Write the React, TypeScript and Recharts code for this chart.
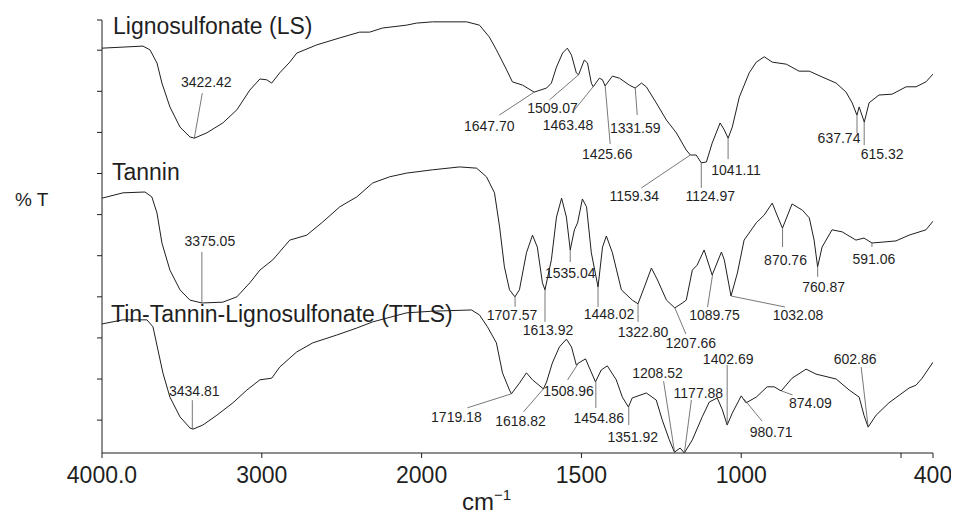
import { LineChart, Line, XAxis, YAxis, ReferenceDot } from "recharts"

// wavenumbers (cm-1), with the stacked %T reading at each one
const lsWave = [4000, 3744, 3700, 3656, 3625, 3575, 3512, 3450, 3422, 3344, 3244, 3156, 3075, 3012, 2969, 2938, 2888, 2825, 2781, 2656, 2512, 2388, 2325, 2244, 2094, 2031, 1966, 1859, 1819, 1788, 1766, 1734, 1716, 1684, 1648, 1609, 1594, 1578, 1559, 1544, 1531, 1516, 1509, 1491, 1481, 1469, 1463, 1444, 1434, 1426, 1403, 1381, 1350, 1332, 1312, 1297, 1266, 1234, 1203, 1172, 1159, 1141, 1125, 1109, 1091, 1066, 1053, 1041, 1028, 1006, 975, 953, 928, 903, 859, 819, 787, 747, 703, 672, 653, 638, 631, 615, 600, 569, 528, 484, 453, 422, 400]
const lsT = [9.85, 9.9, 9.81, 9.49, 9.0, 8.42, 7.93, 7.69, 7.66, 7.79, 8.03, 8.35, 8.83, 9.1, 9.08, 9.0, 9.25, 9.51, 9.73, 9.93, 10.1, 10.24, 10.24, 10.34, 10.41, 10.46, 10.49, 10.49, 10.41, 10.12, 9.81, 9.32, 9.03, 8.95, 8.78, 8.88, 9.0, 9.39, 9.73, 9.85, 9.68, 9.25, 9.2, 9.56, 9.49, 9.0, 8.91, 9.12, 9.08, 8.93, 9.17, 9.12, 8.95, 8.88, 9.0, 8.91, 8.52, 8.1, 7.79, 7.37, 7.25, 7.25, 7.06, 7.08, 7.54, 8.03, 7.86, 7.66, 7.93, 8.66, 9.25, 9.51, 9.64, 9.51, 9.46, 9.29, 9.29, 9.15, 9.0, 8.78, 8.52, 8.22, 8.42, 8.05, 8.52, 8.71, 8.73, 8.91, 8.91, 9.03, 9.22]

const tanninWave = [4000, 3869, 3731, 3688, 3656, 3625, 3575, 3512, 3450, 3375, 3244, 3156, 3075, 3012, 2931, 2825, 2719, 2619, 2512, 2406, 2306, 2200, 2094, 1966, 1881, 1828, 1797, 1772, 1756, 1741, 1725, 1708, 1694, 1672, 1653, 1638, 1622, 1614, 1594, 1578, 1562, 1547, 1535, 1522, 1512, 1497, 1484, 1469, 1448, 1434, 1422, 1403, 1375, 1341, 1323, 1303, 1281, 1262, 1234, 1208, 1184, 1172, 1153, 1138, 1116, 1091, 1062, 1053, 1032, 1012, 991, 953, 928, 903, 888, 871, 841, 809, 787, 772, 761, 747, 716, 684, 641, 616, 591, 559, 516, 475, 422, 400]
const tanninT = [6.2, 6.33, 6.35, 6.23, 5.84, 5.11, 4.45, 3.97, 3.72, 3.65, 3.67, 3.8, 4.14, 4.45, 4.7, 5.18, 5.3, 5.62, 5.99, 6.23, 6.57, 6.72, 6.81, 6.89, 6.96, 6.93, 6.72, 6.33, 5.5, 4.53, 3.97, 3.8, 3.97, 4.87, 5.3, 5.01, 4.14, 3.97, 4.7, 5.74, 6.2, 5.74, 4.94, 5.43, 5.6, 6.18, 5.99, 4.87, 4.04, 5.01, 5.28, 4.87, 3.97, 3.72, 3.63, 4.04, 4.5, 4.21, 3.72, 3.53, 3.65, 3.72, 4.45, 4.57, 4.94, 4.33, 4.89, 4.7, 3.82, 4.38, 5.18, 5.6, 5.79, 6.08, 5.79, 5.47, 6.06, 5.91, 5.72, 5.18, 4.53, 5.01, 5.43, 5.38, 5.18, 5.23, 5.11, 5.13, 5.16, 5.3, 5.43, 5.64]

const ttlsWave = [4000, 3869, 3719, 3681, 3650, 3619, 3575, 3512, 3450, 3431, 3369, 3281, 3181, 3094, 3012, 2938, 2888, 2825, 2781, 2681, 2531, 2406, 2306, 2094, 1966, 1844, 1819, 1794, 1766, 1747, 1725, 1719, 1694, 1672, 1653, 1619, 1609, 1591, 1569, 1547, 1531, 1516, 1509, 1487, 1475, 1456, 1438, 1419, 1391, 1372, 1353, 1341, 1297, 1266, 1247, 1225, 1209, 1191, 1178, 1153, 1122, 1100, 1075, 1059, 1044, 1028, 1000, 985, 953, 919, 897, 875, 841, 797, 766, 703, 662, 631, 616, 603, 578, 538, 475, 453, 434, 400]
const ttlsT = [3.14, 3.24, 3.24, 3.07, 2.51, 1.95, 1.36, 0.88, 0.61, 0.58, 0.68, 0.92, 1.22, 1.53, 1.78, 1.82, 2.09, 2.31, 2.46, 2.68, 2.87, 3.04, 3.19, 3.41, 3.45, 3.48, 3.36, 3.07, 2.68, 1.95, 1.53, 1.44, 1.7, 1.95, 1.78, 1.56, 1.73, 2.19, 2.58, 2.77, 2.58, 2.14, 2.19, 2.29, 2.07, 1.73, 2.02, 2.12, 1.78, 1.36, 1.12, 1.34, 1.46, 1.29, 0.8, 0.32, 0.02, 0.12, 0.0, 0.32, 0.88, 1.24, 1.34, 1.05, 0.68, 0.97, 1.39, 1.22, 1.36, 1.61, 1.61, 1.51, 1.82, 2.04, 1.92, 1.8, 1.53, 1.36, 0.92, 0.63, 0.92, 1.22, 1.58, 1.65, 1.82, 2.21]

// labelled bands and the %T of the curve where each leader line starts
const lsPeaks = [3422.42, 1647.7, 1509.07, 1463.48, 1425.66, 1331.59, 1159.34, 1124.97, 1041.11, 637.74, 615.32]
const lsPeakT = [7.66, 8.78, 9.2, 8.91, 8.93, 8.88, 7.25, 7.06, 7.66, 8.22, 8.05]
const tanninPeaks = [3375.05, 1707.57, 1613.92, 1535.04, 1448.02, 1322.8, 1207.66, 1089.75, 1032.08, 870.76, 760.87, 591.06]
const tanninPeakT = [3.65, 3.8, 3.97, 4.94, 4.04, 3.63, 3.53, 4.33, 3.82, 5.47, 4.53, 5.11]
const ttlsPeaks = [3434.81, 1719.18, 1618.82, 1508.96, 1454.86, 1351.92, 1208.52, 1177.88, 1402.69, 980.71, 874.09, 602.86]
const ttlsPeakT = [0.58, 1.44, 1.56, 2.19, 1.73, 1.12, 0.02, 0.0, 0.68, 1.31, 1.51, 0.63]

const xTicks = [4000, 3000, 2000, 1500, 1000, 500, 400]
const yTicks = [0.8, 1.8, 2.8, 3.8, 4.8, 5.8, 6.8, 7.8, 8.8, 9.8, 10.535]

// leader line end and label centre, in px from the point on the curve
type Note = { line: [number, number]; text: [number, number]; at?: number }
const lsNotes: Note[] = [
  { line: [8, -45], text: [12, -56] },
  { line: [-35, 23], text: [-45, 34] },
  { line: [-29, 25], text: [-26, 33] },
  { line: [-21, 26], text: [-25, 38] },
  { line: [5, 58], text: [2, 68] },
  { line: [2, 27], text: [0, 40] },
  { line: [-49, 33], text: [-56, 41] },
  { line: [0, 25], text: [9, 33] },
  { line: [0, 21], text: [8, 32] },
  { line: [0, 18], text: [-18, 23] },
  { line: [0, 23], text: [18, 32] },
]
const tanninNotes: Note[] = [
  { line: [0, -51], text: [8, -62] },
  { line: [0, 10], text: [-3, 18] },
  { line: [0, 32], text: [3, 40] },
  { line: [0, 12], text: [0, 23] },
  { line: [0, 20], text: [11, 27] },
  { line: [0, 18], text: [5, 28] },
  { line: [11, 26], text: [16, 35] },
  { line: [-5, 32], text: [2, 40] },
  { line: [54, 11], text: [67, 19] },
  { line: [0, 19], text: [3, 32] },
  { line: [0, 10], text: [6, 20] },
  { line: [0, 4], text: [2, 16] },
]
const ttlsNotes: Note[] = [
  { line: [0, -29], text: [2, -38] },
  { line: [-44, 14], text: [-55, 23] },
  { line: [-20, 23], text: [-23, 32] },
  { line: [-11, 17], text: [-10, 28] },
  { line: [0, 26], text: [3, 36] },
  { line: [0, 18], text: [4, 30] },
  { line: [-11, -71], text: [-17, -79] },
  { line: [7, -53], text: [14, -60] },
  { line: [0, -60], text: [1, -66], at: 1044 },
  { line: [18, 22], text: [27, 33], at: 991 },
  { line: [11, 4], text: [29, 12] },
  { line: [-7, -60], text: [-13, -68] },
]

// the axis is compressed 2x above 2000 cm-1, so plot in a folded unit
const toU = (w: number) => (w > 2000 ? 2000 + (w - 2000) / 2 : w)
const fromU = (u: number) => (u > 2000 ? 2000 + (u - 2000) * 2 : u)

const series = (wave: number[], t: number[]) =>
  wave.map((w, i) => ({ u: toU(w), v: t[i] }))

const traces = [
  { name: "Lignosulfonate (LS)", data: series(lsWave, lsT), peaks: lsPeaks, peakT: lsPeakT, notes: lsNotes, nameAt: [11, -14] },
  { name: "Tannin", data: series(tanninWave, tanninT), peaks: tanninPeaks, peakT: tanninPeakT, notes: tanninNotes, nameAt: [10, -18] },
  { name: "Tin-Tannin-Lignosulfonate (TTLS)", data: series(ttlsWave, ttlsT), peaks: ttlsPeaks, peakT: ttlsPeakT, notes: ttlsNotes, nameAt: [9, -2] },
]

const INK = "#1f1f1f"

const PeakNote = ({ cx, cy, label, note }: { cx: number; cy: number; label: string; note: Note }) => (
  <g>
    <line
      x1={cx}
      y1={cy}
      x2={cx + note.line[0]}
      y2={cy + note.line[1]}
      stroke="#555"
      strokeWidth={0.8}
    />
    <text
      x={cx + note.text[0]}
      y={cy + note.text[1] + 5}
      textAnchor="middle"
      fontSize={14}
      fill={INK}
    >
      {label}
    </text>
  </g>
)

export default function App() {
  return (
    <div style={{ fontFamily: "'Liberation Sans', Arial, Helvetica, sans-serif" }}>
      <LineChart width={951} height={505} margin={{ top: 12, right: 26, bottom: 0, left: 0 }}>
        <XAxis
          type="number"
          dataKey="u"
          domain={[400, 3000]}
          reversed
          allowDataOverflow
          ticks={xTicks.map(toU)}
          interval={0}
          tickFormatter={(u: number) => {
            const w = fromU(u)
            if (w === 4000) return "4000.0"
            if (w === 500) return ""
            return String(w)
          }}
          tick={{ fontSize: 23, fill: INK }}
          tickSize={5}
          tickMargin={9}
          height={60}
          stroke={INK}
          label={{
            content: (p: any) => {
              const vb = p.viewBox
              return (
                <text x={vb.x + 360} y={vb.y + 56.5} fontSize={24} fill={INK}>
                  cm
                  <tspan fontSize={15} dy={-10}>
                    −1
                  </tspan>
                </text>
              )
            },
          }}
        />
        <YAxis
          type="number"
          dataKey="v"
          domain={[0, 10.535]}
          allowDataOverflow
          ticks={yTicks}
          interval={0}
          tickFormatter={() => ""}
          tickSize={5}
          width={94}
          stroke={INK}
          label={{
            content: (p: any) => {
              const vb = p.viewBox
              return (
                <text x={vb.x + 7} y={vb.y + 186} fontSize={19} fill={INK}>
                  % T
                </text>
              )
            },
          }}
        />
        {traces.map((tr) => (
          <Line
            key={tr.name}
            data={tr.data}
            dataKey="v"
            type="linear"
            stroke={INK}
            strokeWidth={1}
            dot={false}
            activeDot={false}
            isAnimationActive={false}
          />
        ))}
        {traces.map((tr) => (
          <ReferenceDot
            key={"name-" + tr.name}
            x={tr.data[0].u}
            y={tr.data[0].v}
            r={0}
            ifOverflow="visible"
            shape={(p: any) => (
              <text x={p.cx + tr.nameAt[0]} y={p.cy + tr.nameAt[1]} fontSize={23} fill={INK}>
                {tr.name}
              </text>
            )}
          />
        ))}
        {traces.flatMap((tr) =>
          tr.peaks.map((pk, i) => {
            const note = tr.notes[i]
            return (
              <ReferenceDot
                key={tr.name + pk}
                x={toU(note.at ?? pk)}
                y={tr.peakT[i]}
                r={0}
                ifOverflow="visible"
                shape={(p: any) => (
                  <PeakNote cx={p.cx} cy={p.cy} label={pk.toFixed(2)} note={note} />
                )}
              />
            )
          })
        )}
      </LineChart>
    </div>
  )
}
